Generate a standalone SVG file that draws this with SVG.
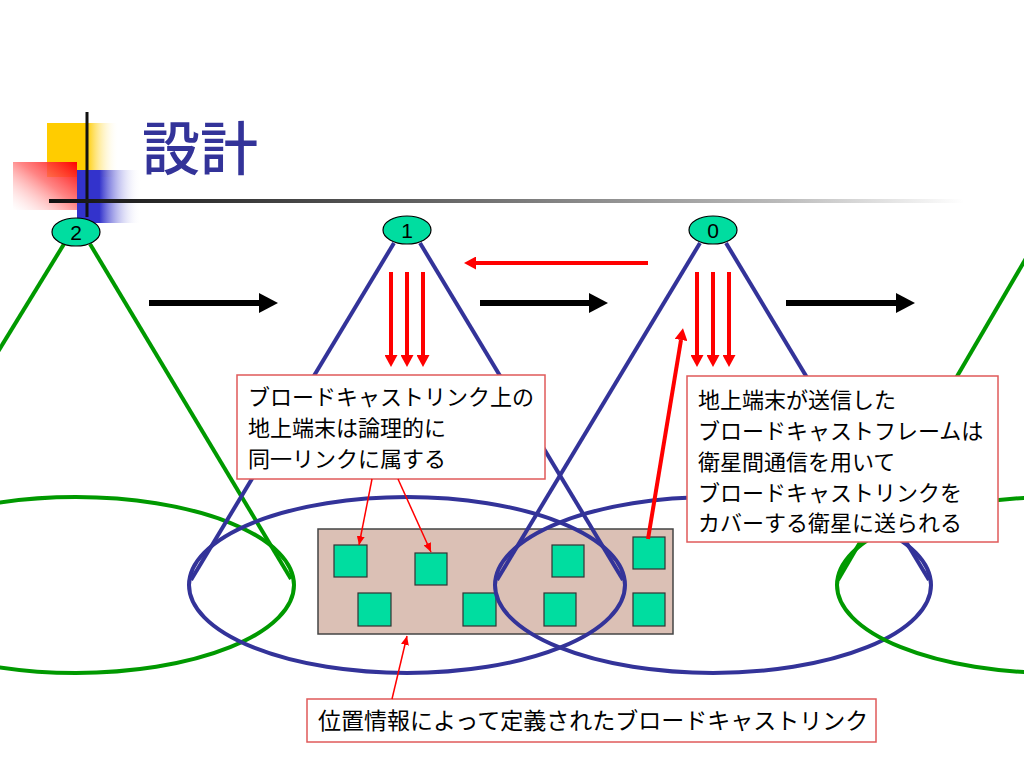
<svg xmlns="http://www.w3.org/2000/svg" width="1024" height="768" viewBox="0 0 1024 768">
<defs>
<style>
.jp{font-family:"Noto Sans CJK JP","Noto Sans",sans-serif;font-size:22px;fill:#000}
.num{font-family:"Liberation Sans",Arial,sans-serif;font-size:21px;fill:#000;text-anchor:middle}
.blue{fill:none;stroke:#333399;stroke-width:4}
.green{fill:none;stroke:#009900;stroke-width:4}
.sat{fill:#00DDA0;stroke:#000;stroke-width:1.2}
.term{fill:#00DDA0;stroke:#333;stroke-width:1.2}
.callout{fill:#fff;stroke:#E05A5A;stroke-width:1.5}
.bk{stroke:#000;stroke-width:6;fill:none}
.rd{stroke:#FF0000;stroke-width:4;fill:none}
.rt{stroke:#FF0000;stroke-width:1.5;fill:none}
</style>
<linearGradient id="gY" x1="0" y1="0" x2="1" y2="0">
<stop offset="0" stop-color="#FFCC00"/><stop offset="0.55" stop-color="#FFCC00"/><stop offset="1" stop-color="#FFFFFF" stop-opacity="0"/>
</linearGradient>
<linearGradient id="gR" x1="1" y1="0" x2="0" y2="1">
<stop offset="0" stop-color="#FF0000"/><stop offset="0.45" stop-color="#FF6666" stop-opacity="0.8"/><stop offset="1" stop-color="#FFFFFF" stop-opacity="0.3"/>
</linearGradient>
<linearGradient id="gB" x1="0" y1="0" x2="1" y2="0">
<stop offset="0" stop-color="#3333CC"/><stop offset="0.35" stop-color="#3333CC"/><stop offset="1" stop-color="#FFFFFF" stop-opacity="0"/>
</linearGradient>
<linearGradient id="gL" x1="0" y1="0" x2="1" y2="0">
<stop offset="0" stop-color="#111"/><stop offset="0.35" stop-color="#555"/><stop offset="0.8" stop-color="#bbb"/><stop offset="1" stop-color="#fff"/>
</linearGradient>
<marker id="hBk" markerUnits="userSpaceOnUse" markerWidth="20" markerHeight="20" refX="0" refY="10" orient="auto">
<path d="M0,0 L19,10 L0,20 z" fill="#000"/>
</marker>
<marker id="hRd" markerUnits="userSpaceOnUse" markerWidth="13" markerHeight="13" refX="0" refY="6.5" orient="auto">
<path d="M0,0 L12,6.5 L0,13 z" fill="#FF0000"/>
</marker>
<marker id="hRt" markerUnits="userSpaceOnUse" markerWidth="10" markerHeight="8" refX="9" refY="4" orient="auto">
<path d="M0,0 L9,4 L0,8 z" fill="#FF0000"/>
</marker>
</defs>
<rect width="1024" height="768" fill="#fff"/>

<g id="logo">
<rect x="47" y="123" width="72" height="54" fill="url(#gY)"/>
<rect x="13" y="162" width="64" height="48" fill="url(#gR)"/>
<rect x="77" y="170" width="64" height="53" fill="url(#gB)"/>
<line x1="87" y1="112" x2="87" y2="217" stroke="#111" stroke-width="3"/>
<rect x="49" y="199" width="915" height="4" fill="url(#gL)"/>
</g>
<text id="title" x="142" y="170" font-family="'Noto Sans CJK JP','Noto Sans',sans-serif" font-size="58" font-weight="500" fill="#333399">設計</text>

<g id="link-area">
<rect x="318" y="529" width="355" height="105" fill="#DBC0B5" stroke="#444" stroke-width="1.5"/>
</g>
<g id="terminals">
<rect id="t1" class="term" x="334" y="545" width="33" height="32"/>
<rect id="t2" class="term" x="415" y="553" width="32" height="32"/>
<rect id="t3" class="term" x="358" y="593" width="33" height="33"/>
<rect id="t4" class="term" x="463" y="593" width="33" height="33"/>
<rect id="t5" class="term" x="552" y="545" width="32" height="32"/>
<rect id="t6" class="term" x="633" y="537" width="32" height="32"/>
<rect id="t7" class="term" x="544" y="593" width="32" height="33"/>
<rect id="t8" class="term" x="633" y="593" width="32" height="33"/>
</g>

<g id="coverage">
<ellipse class="green" cx="76" cy="585" rx="218" ry="88"/>
<line class="green" x1="64" y1="244" x2="-142" y2="580"/>
<line class="green" x1="90" y1="244" x2="291" y2="579"/>
<ellipse class="blue" cx="407" cy="585" rx="218" ry="88"/>
<line class="blue" x1="394" y1="243" x2="191" y2="580"/>
<line class="blue" x1="420" y1="243" x2="623" y2="580"/>
<ellipse class="blue" cx="713" cy="585" rx="218" ry="88"/>
<line class="blue" x1="700" y1="243" x2="497" y2="580"/>
<line class="blue" x1="726" y1="243" x2="929" y2="580"/>
<ellipse class="green" cx="1055" cy="585" rx="218" ry="88"/>
<line class="green" x1="1042" y1="231" x2="838" y2="580"/>
</g>

<g id="sat2"><ellipse class="sat" cx="76" cy="232" rx="24" ry="14"/><text class="num" x="76" y="239.5">2</text></g>
<g id="sat1"><ellipse class="sat" cx="407" cy="230" rx="24" ry="14"/><text class="num" x="407" y="237.5">1</text></g>
<g id="sat0"><ellipse class="sat" cx="713" cy="230" rx="24" ry="14"/><text class="num" x="713" y="237.5">0</text></g>

<g id="callout-left">
<rect class="callout" x="237" y="375" width="308" height="104"/>
<text class="jp" x="248" y="405">ブロードキャストリンク上の</text>
<text class="jp" x="248" y="436">地上端末は論理的に</text>
<text class="jp" x="248" y="467">同一リンクに属する</text>
</g>
<g id="callout-right">
<rect class="callout" x="687" y="376" width="311" height="166"/>
<text class="jp" x="698" y="408">地上端末が送信した</text>
<text class="jp" x="698" y="439">ブロードキャストフレームは</text>
<text class="jp" x="698" y="470">衛星間通信を用いて</text>
<text class="jp" x="698" y="501">ブロードキャストリンクを</text>
<text class="jp" x="698" y="531">カバーする衛星に送られる</text>
</g>
<g id="callout-bottom">
<rect class="callout" x="307" y="699" width="569" height="43"/>
<text class="jp" x="318" y="729" style="font-size:23px">位置情報によって定義されたブロードキャストリンク</text>
</g>

<g id="connectors">
<line class="bk" x1="149" y1="303" x2="259" y2="303" marker-end="url(#hBk)"/>
<line class="bk" x1="480" y1="303" x2="589" y2="303" marker-end="url(#hBk)"/>
<line class="bk" x1="786" y1="303" x2="896" y2="303" marker-end="url(#hBk)"/>
<line class="rd" x1="648" y1="263" x2="476" y2="263" marker-end="url(#hRd)"/>
<line class="rd" x1="391" y1="272" x2="391" y2="355" marker-end="url(#hRd)"/>
<line class="rd" x1="407" y1="272" x2="407" y2="355" marker-end="url(#hRd)"/>
<line class="rd" x1="423" y1="272" x2="423" y2="355" marker-end="url(#hRd)"/>
<line class="rd" x1="697" y1="272" x2="697" y2="355" marker-end="url(#hRd)"/>
<line class="rd" x1="713" y1="272" x2="713" y2="355" marker-end="url(#hRd)"/>
<line class="rd" x1="729" y1="272" x2="729" y2="355" marker-end="url(#hRd)"/>
<line class="rd" x1="648" y1="539" x2="681" y2="340" marker-end="url(#hRd)"/>
<line class="rt" x1="372" y1="479" x2="359" y2="545" marker-end="url(#hRt)"/>
<line class="rt" x1="398" y1="479" x2="431" y2="552" marker-end="url(#hRt)"/>
<line class="rt" x1="392" y1="699" x2="407" y2="636" marker-end="url(#hRt)"/>
</g>
</svg>
